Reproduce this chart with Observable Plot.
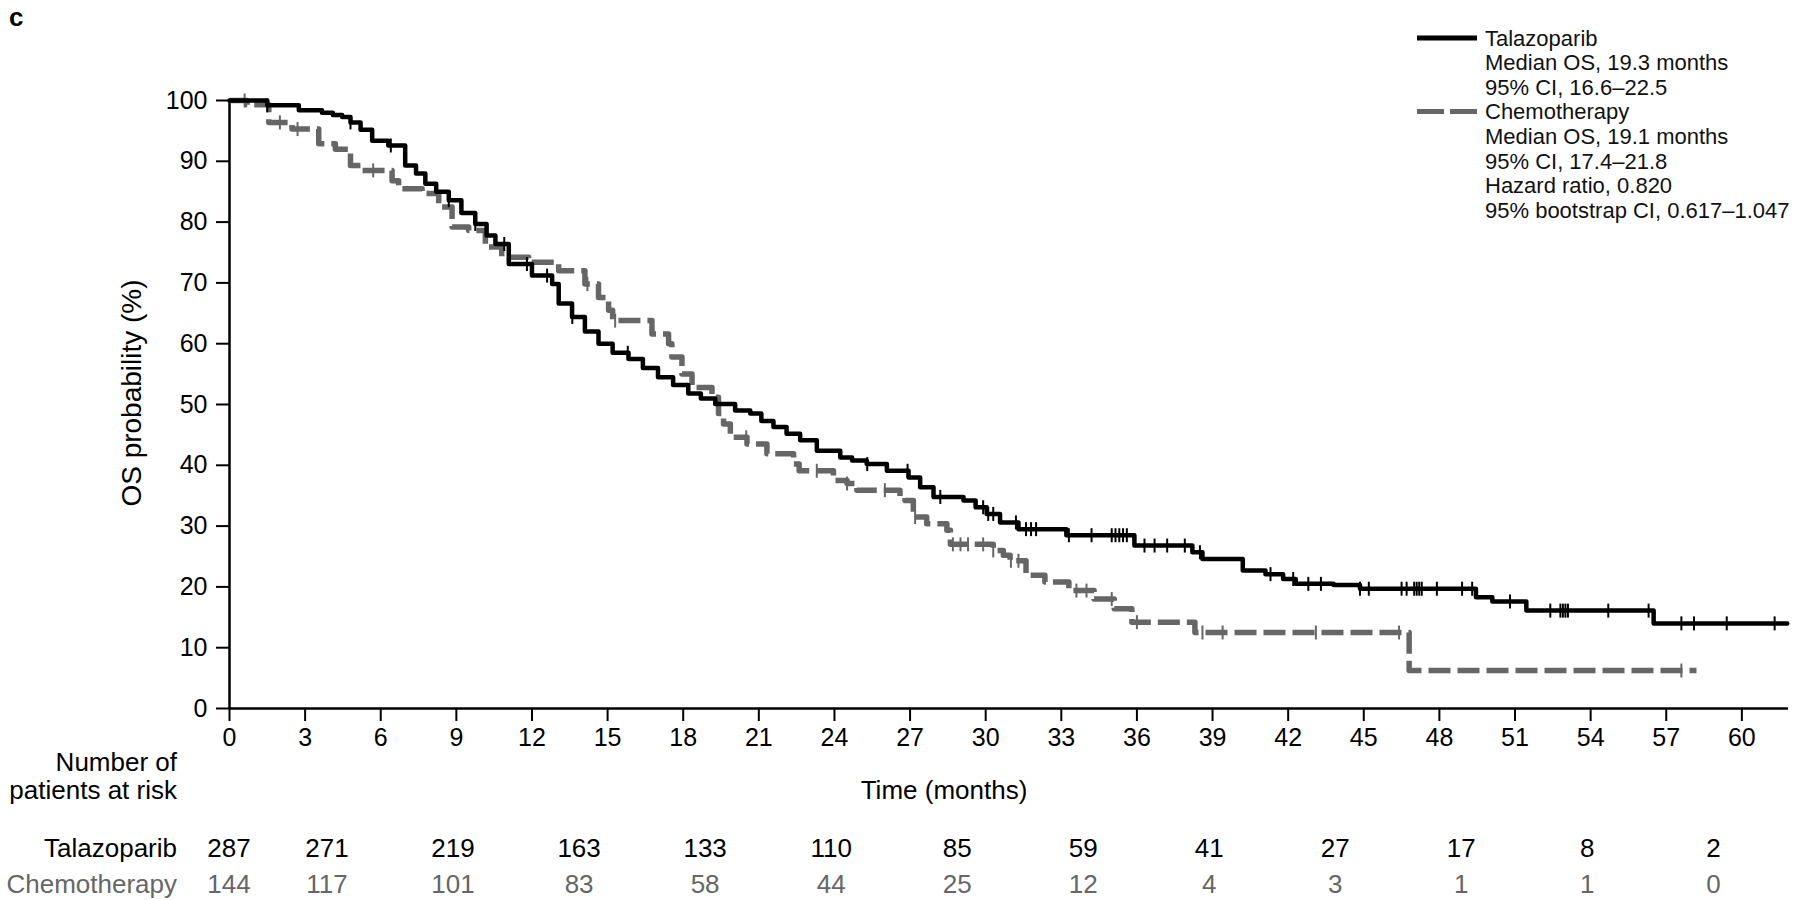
<!DOCTYPE html>
<html><head><meta charset="utf-8">
<script src="https://cdn.jsdelivr.net/npm/d3@7"></script>
<script src="https://cdn.jsdelivr.net/npm/@observablehq/plot@0.6"></script>
<style>
body{margin:0;background:#fff;}
#wrap{position:relative;width:1795px;height:900px;font-family:"Liberation Sans",Arial,sans-serif;}
#wrap svg{position:absolute;left:0;top:0;}
</style></head><body><div id="wrap"></div>
<script>
// ---- Kaplan–Meier step data (months, OS %) ----
const talaTime = [0,1.5,2.75,3.67,4.1,4.47,4.8,5.2,5.66,6.3,6.97,7.4,7.77,8.2,8.7,9.2,9.75,10.2,10.55,11.08,12.0,12.8,13.06,13.59,14.1,14.64,15.2,15.83,16.4,17.0,17.6,18.2,18.7,19.27,20.06,20.66,21.1,21.58,22.1,22.64,23.3,24.23,24.7,25.28,26.08,26.94,27.4,27.93,29.12,29.6,30.04,30.57,31.3,33.2,35.9,38.2,38.6,40.2,41.1,41.8,42.3,43.8,44.85,49.45,50.1,51.45,56.5,61.8];
const talaSurv = [100,99.2,98.4,98.0,97.6,97.3,96.4,95.2,93.4,92.6,89.3,88.0,86.3,85.0,83.6,81.5,79.7,77.8,76.4,73.1,71.2,69.8,66.6,64.4,62.0,60.0,58.5,57.5,56.0,54.5,53.2,51.8,51.0,50.1,49.0,48.5,47.3,46.3,45.2,44.1,42.4,41.3,40.8,40.2,39.1,38.0,36.4,34.8,34.2,33.1,32.0,30.6,29.5,28.5,26.8,25.7,24.6,22.7,22.1,21.3,20.5,20.3,19.7,18.3,17.6,16.1,14.0,14.0];
const chemoTime = [0,0.7,1.56,2.48,3.54,4.2,4.8,5.26,6.45,6.71,7.64,8.3,8.83,9.49,10.15,10.8,11.87,13.06,14.1,14.64,15.04,15.2,16.76,17.42,17.55,17.95,18.35,19.14,19.4,19.6,19.87,20.53,21.32,22.38,22.6,23.96,24.5,24.89,26.6,26.8,27.13,27.66,28.46,28.6,30.3,30.7,30.97,31.6,32.35,33.3,34.3,35.1,35.8,38.3,46.8,58.2];
const chemoSurv = [100,99.3,96.4,95.3,92.9,92.0,89.3,88.5,86.8,85.5,84.7,82.5,79.2,78.6,75.9,74.2,73.4,72.0,69.8,67.6,65.5,63.8,61.6,60.0,57.8,55.0,52.8,51.2,48.5,46.8,44.6,43.5,41.9,40.2,39.1,37.5,37.0,35.9,34.8,34.2,31.5,30.4,29.3,27.0,26.0,25.2,24.3,21.9,20.8,19.4,18.0,16.4,14.2,12.5,6.25,6.25];
// censoring times (months)
const talaCensor = [1.5,4.8,6.4,8.7,9.75,10.9,11.8,12.6,13.6,15.8,25.3,26.9,28.2,29.9,30.1,30.3,31.2,31.6,31.8,32.0,33.3,34.2,35.0,35.15,35.3,35.45,35.6,36.3,36.7,37.2,37.9,38.5,41.3,42.2,42.8,43.3,44.85,45.2,46.5,46.7,47.0,47.1,47.2,47.3,47.9,48.9,49.3,50.8,52.4,52.8,52.9,53.0,53.1,54.7,56.3,57.6,58.1,59.4,61.3];
const chemoCensor = [0.6,2.0,2.7,5.7,14.2,15.3,20.5,23.3,24.5,26.0,27.2,28.7,29.0,29.3,29.9,30.3,31.0,31.3,33.6,34.0,35.0,36.0,38.6,39.4,43.1,46.4,57.6];
// axes
const xTicks = [0,3,6,9,12,15,18,21,24,27,30,33,36,39,42,45,48,51,54,57,60];
const yTicks = [0,10,20,30,40,50,60,70,80,90,100];
// number at risk
const riskTime = [0,5,10,15,20,25,30,35,40,45,50,55,60];
const talaRisk = [287,271,219,163,133,110,85,59,41,27,17,8,2];
const chemoRisk = [144,117,101,83,58,44,25,12,4,3,1,1,0];
// legend text
const legendTala = ["Talazoparib","Median OS, 19.3 months","95% CI, 16.6\u201322.5"];
const legendChemo = ["Chemotherapy","Median OS, 19.1 months","95% CI, 17.4\u201321.8","Hazard ratio, 0.820","95% bootstrap CI, 0.617\u20131.047"];

const BLACK = "#000", GRAY = "#666";
const FONT = "'Liberation Sans', Arial, sans-serif";

const tala = talaTime.map((t,i)=>({t, s: talaSurv[i]}));
const chemo = chemoTime.map((t,i)=>({t, s: chemoSurv[i]}));
function stepAt(times, surv, t){ let v = surv[0]; for(let i=0;i<times.length;i++){ if(times[i] <= t) v = surv[i]; } return v; }
const talaC = talaCensor.map(t=>({t, s: stepAt(talaTime, talaSurv, t)}));
const chemoC = chemoCensor.map(t=>({t, s: stepAt(chemoTime, chemoSurv, t)}));
const vbar = {draw(ctx, size){ const r = Math.sqrt(size/Math.PI); ctx.moveTo(0,-r); ctx.lineTo(0,r); }};

const riskRows = [];
riskTime.forEach((t,i)=>{ riskRows.push({t, v: talaRisk[i], row: 0, i}); riskRows.push({t, v: chemoRisk[i], row: 1, i}); });

const W = 1795, H = 900;
const plot = Plot.plot({
  width: W, height: H,
  marginLeft: 229, marginRight: 7, marginTop: 100, marginBottom: 192,
  style: {fontFamily: FONT, background: "transparent", overflow: "visible"},
  x: {domain: [0, 61.85], ticks: xTicks, label: null},
  y: {domain: [0, 100], ticks: yTicks, label: null},
  marks: [
    Plot.axisX({ticks: xTicks, tickSize: 13, tickPadding: 7, fontSize: 25, strokeWidth: 2, label: null, tickFormat: d=>String(d), color: "#000"}),
    Plot.axisY({ticks: yTicks, tickSize: 13, tickPadding: 9, fontSize: 25, strokeWidth: 2, label: null, tickFormat: d=>String(d), color: "#000"}),
    Plot.ruleY([0], {stroke: "#000", strokeWidth: 2.5}),
    Plot.ruleX([0], {stroke: "#000", strokeWidth: 2.5}),
    Plot.line(chemo, {x: "t", y: "s", curve: "step-after", stroke: GRAY, strokeWidth: 5.5, strokeDasharray: "22,7", strokeLinecap: "butt"}),
    Plot.dot(chemoC, {x: "t", y: "s", symbol: vbar, r: 7, stroke: GRAY, strokeWidth: 2, fill: "none"}),
    Plot.line(tala, {x: "t", y: "s", curve: "step-after", stroke: BLACK, strokeWidth: 4.5}),
    Plot.dot(talaC, {x: "t", y: "s", symbol: vbar, r: 7, stroke: BLACK, strokeWidth: 2, fill: "none"})
  ]
});
document.getElementById("wrap").appendChild(plot);

// overlay: at-risk table (x from the plot's scale), titles and legend
const xs = plot.scale("x");
const ov = d3.select("#wrap").append("svg").attr("width", W).attr("height", H)
  .style("font-family", FONT);
const rowY = [848, 884];
riskRows.forEach(d=>{
  ov.append("text").attr("x", xs.apply(d.t) + (d.i===0?0:-28)).attr("y", rowY[d.row])
    .attr("text-anchor","middle").attr("dominant-baseline","central").attr("font-size",26)
    .attr("fill", d.row===0?BLACK:GRAY).text(d.v);
});
[["Talazoparib",BLACK,848],["Chemotherapy",GRAY,884],["Number of","#000",762],["patients at risk","#000",790]].forEach(([s,c,y])=>{
  ov.append("text").attr("x",177).attr("y",y).attr("text-anchor","end").attr("dominant-baseline","central")
    .attr("font-size",26).attr("fill",c).text(s);
});
ov.append("text").attr("x",944).attr("y",790).attr("text-anchor","middle").attr("dominant-baseline","central")
  .attr("font-size",26).text("Time (months)");
ov.append("text").attr("transform","translate(131,393) rotate(-90)").attr("text-anchor","middle")
  .attr("dominant-baseline","central").attr("font-size",28).text("OS probability (%)");
ov.append("text").attr("x",9).attr("y",26).attr("font-size",26).attr("font-weight","bold").text("c");
// legend
ov.append("line").attr("x1",1417).attr("x2",1477).attr("y1",38).attr("y2",38).attr("stroke",BLACK).attr("stroke-width",5);
ov.append("line").attr("x1",1417).attr("x2",1477).attr("y1",111.5).attr("y2",111.5).attr("stroke",GRAY).attr("stroke-width",5).attr("stroke-dasharray","27,6");
legendTala.concat(legendChemo).forEach((s,i)=>{
  ov.append("text").attr("x",1485).attr("y",38 + i*24.6).attr("dominant-baseline","central")
    .attr("font-size",22).attr("fill","#111").text(s);
});
</script></body></html>
